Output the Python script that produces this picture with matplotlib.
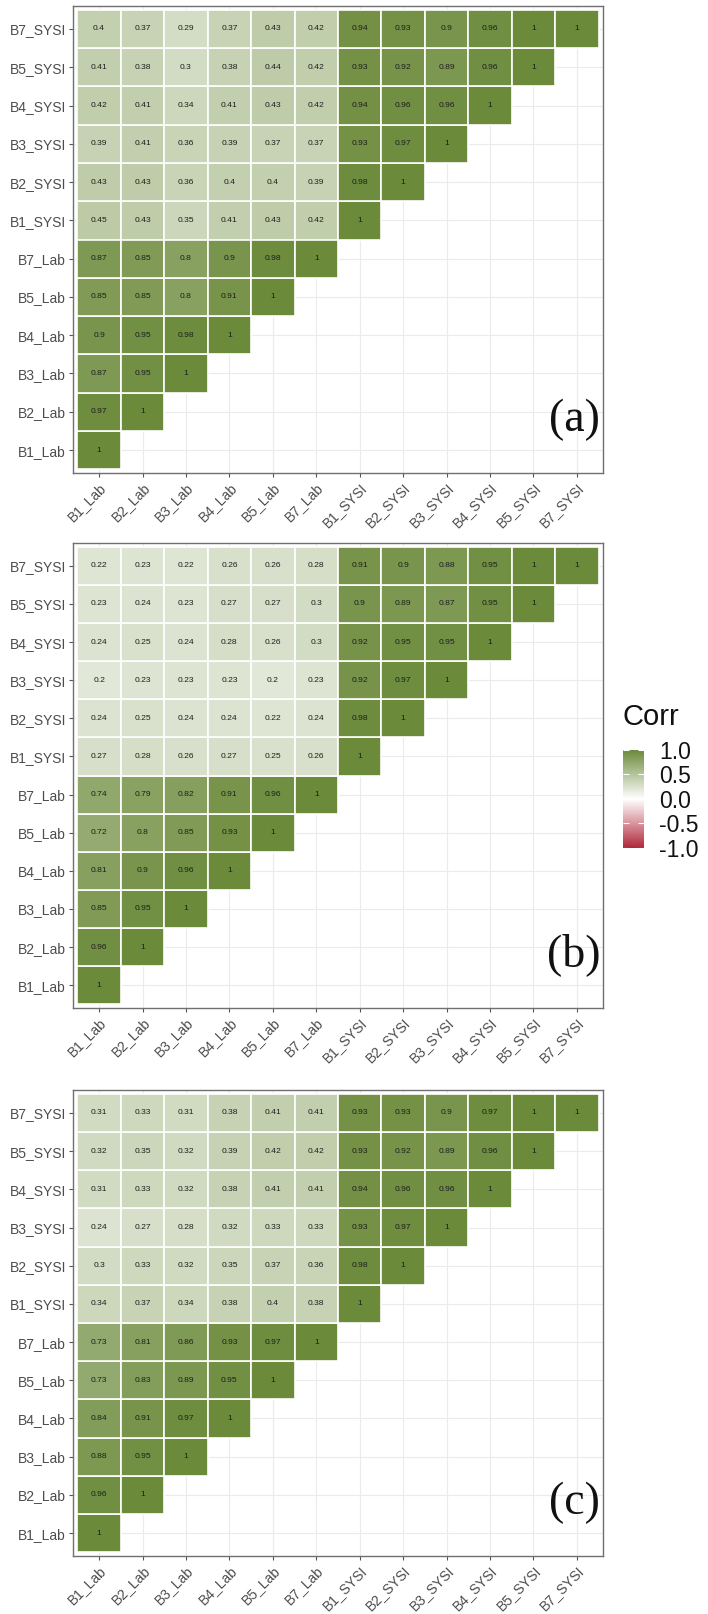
import matplotlib
matplotlib.use("Agg")
import matplotlib.pyplot as plt
from matplotlib.patches import Rectangle
from matplotlib.colors import LinearSegmentedColormap, Normalize
from matplotlib.cm import ScalarMappable

variables = ["B1_Lab", "B2_Lab", "B3_Lab", "B4_Lab", "B5_Lab", "B7_Lab",
             "B1_SYSI", "B2_SYSI", "B3_SYSI", "B4_SYSI", "B5_SYSI", "B7_SYSI"]

# Lower-triangle correlations: row k holds corr(variables[k], variables[0..k])
corr_a = [
    [1],
    [0.97, 1],
    [0.87, 0.95, 1],
    [0.9, 0.95, 0.98, 1],
    [0.85, 0.85, 0.8, 0.91, 1],
    [0.87, 0.85, 0.8, 0.9, 0.98, 1],
    [0.45, 0.43, 0.35, 0.41, 0.43, 0.42, 1],
    [0.43, 0.43, 0.36, 0.4, 0.4, 0.39, 0.98, 1],
    [0.39, 0.41, 0.36, 0.39, 0.37, 0.37, 0.93, 0.97, 1],
    [0.42, 0.41, 0.34, 0.41, 0.43, 0.42, 0.94, 0.96, 0.96, 1],
    [0.41, 0.38, 0.3, 0.38, 0.44, 0.42, 0.93, 0.92, 0.89, 0.96, 1],
    [0.4, 0.37, 0.29, 0.37, 0.43, 0.42, 0.94, 0.93, 0.9, 0.96, 1, 1],
]

corr_b = [
    [1],
    [0.96, 1],
    [0.85, 0.95, 1],
    [0.81, 0.9, 0.96, 1],
    [0.72, 0.8, 0.85, 0.93, 1],
    [0.74, 0.79, 0.82, 0.91, 0.96, 1],
    [0.27, 0.28, 0.26, 0.27, 0.25, 0.26, 1],
    [0.24, 0.25, 0.24, 0.24, 0.22, 0.24, 0.98, 1],
    [0.2, 0.23, 0.23, 0.23, 0.2, 0.23, 0.92, 0.97, 1],
    [0.24, 0.25, 0.24, 0.28, 0.26, 0.3, 0.92, 0.95, 0.95, 1],
    [0.23, 0.24, 0.23, 0.27, 0.27, 0.3, 0.9, 0.89, 0.87, 0.95, 1],
    [0.22, 0.23, 0.22, 0.26, 0.26, 0.28, 0.91, 0.9, 0.88, 0.95, 1, 1],
]

corr_c = [
    [1],
    [0.96, 1],
    [0.88, 0.95, 1],
    [0.84, 0.91, 0.97, 1],
    [0.73, 0.83, 0.89, 0.95, 1],
    [0.73, 0.81, 0.86, 0.93, 0.97, 1],
    [0.34, 0.37, 0.34, 0.38, 0.4, 0.38, 1],
    [0.3, 0.33, 0.32, 0.35, 0.37, 0.36, 0.98, 1],
    [0.24, 0.27, 0.28, 0.32, 0.33, 0.33, 0.93, 0.97, 1],
    [0.31, 0.33, 0.32, 0.38, 0.41, 0.41, 0.94, 0.96, 0.96, 1],
    [0.32, 0.35, 0.32, 0.39, 0.42, 0.42, 0.93, 0.92, 0.89, 0.96, 1],
    [0.31, 0.33, 0.31, 0.38, 0.41, 0.41, 0.93, 0.93, 0.9, 0.97, 1, 1],
]

panel_labels = ["(a)", "(b)", "(c)"]
legend_ticks = [-1.0, -0.5, 0.0, 0.5, 1.0]

W, H = 708, 1614
fig = plt.figure(figsize=(W / 100, H / 100), dpi=100)
fig.patch.set_facecolor("white")

cmap = LinearSegmentedColormap.from_list(
    "corr", ["#B0283A", "#FFFFFF", "#6B8A3A"])
norm = Normalize(-1, 1)

SANS = ["Liberation Sans", "DejaVu Sans"]
SERIF = ["Liberation Serif", "DejaVu Serif"]


def px_axes(left, top, right, bottom):
    return fig.add_axes([left / W, 1 - bottom / H, (right - left) / W, (bottom - top) / H])


def draw_panel(ax, corr, label):
    n = len(variables)
    ax.set_xlim(0.4, n + 0.6)
    ax.set_ylim(0.4, n + 0.6)
    ax.set_facecolor("white")
    pos = list(range(1, n + 1))
    ax.set_xticks(pos)
    ax.set_yticks(pos)
    ax.grid(True, color="#EBEBEB", linewidth=0.8, zorder=0)
    ax.set_axisbelow(True)
    for k, row in enumerate(corr):
        for j, v in enumerate(row):
            ax.add_patch(Rectangle((j + 0.5, k + 0.5), 1, 1,
                                   facecolor=cmap(norm(v)), edgecolor="white",
                                   linewidth=1.2, zorder=2))
            ax.text(j + 1, k + 1, f"{v:g}", ha="center", va="center",
                    fontsize=6.1, color="#1E1E1E", family=SANS, zorder=3)
    ax.set_xticklabels(variables, rotation=45, ha="right", va="top",
                       rotation_mode="anchor", fontsize=10, color="#4D4D4D",
                       family=SANS)
    ax.set_yticklabels(variables, fontsize=10, color="#4D4D4D", family=SANS)
    ax.tick_params(axis="both", length=3, width=0.8, color="#555555", pad=2)
    for s in ax.spines.values():
        s.set_color("#707070")
        s.set_linewidth(1.0)
    ax.text(0.995, 0.09, label, transform=ax.transAxes, ha="right",
            va="baseline", fontsize=33, family=SERIF, color="#111111", zorder=4)


panel_boxes = [(73, 6, 603, 473), (73, 543, 603, 1008), (73, 1090, 603, 1556)]
for box, corr, lab in zip(panel_boxes, [corr_a, corr_b, corr_c], panel_labels):
    draw_panel(px_axes(*box), corr, lab)

# Colour legend
cax = px_axes(623, 750, 644, 848)
cb = fig.colorbar(ScalarMappable(norm=norm, cmap=cmap), cax=cax)
cb.outline.set_visible(False)
cb.set_ticks(legend_ticks)
cb.set_ticklabels([f"{t:.1f}" for t in legend_ticks])
cax.tick_params(direction="in", color="white", length=4, width=0.8,
                left=True, right=True, labelleft=False, labelright=True,
                labelsize=16.5, pad=11)
for t in cax.get_yticklabels():
    t.set_family(SANS)
    t.set_color("#111111")
fig.text(623 / W, 1 - 717 / H, "Corr", ha="left", va="center",
         fontsize=21, family=SANS, color="#111111")

fig.savefig("out.png", dpi=100, facecolor="white")
